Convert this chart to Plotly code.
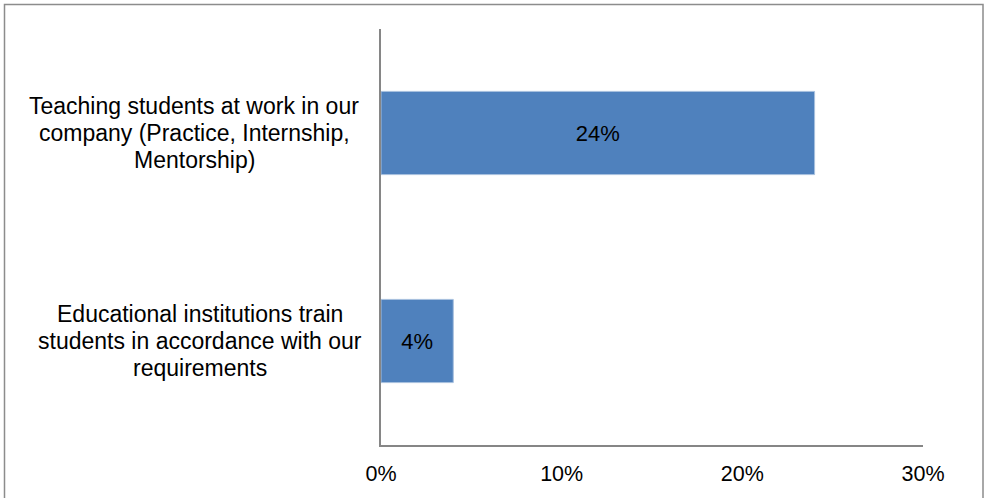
import plotly.graph_objects as go

# Survey answers (share of respondents)
categories = [
    "Teaching students at work in our company (Practice, Internship, Mentorship)",
    "Educational institutions train students in accordance with our requirements",
]
category_lines = [
    ["Teaching students at work in our", "company (Practice, Internship,", "Mentorship)"],
    ["Educational institutions train", "students in accordance with our", "requirements"],
]
values = [0.24, 0.04]
tick_values = [0, 0.1, 0.2, 0.3]
tick_labels = ["0%", "10%", "20%", "30%"]

FONT = "Liberation Sans, Arial, sans-serif"
W, H = 984, 498
ML, MR, MT, MB = 381, 61, 29, 53
LINE_STEP = 27          # px between wrapped label lines
LABEL_CENTER = [-187, -181]  # horizontal centre of each label block, px from the axis

fig = go.Figure(
    go.Bar(
        x=values,
        y=categories,
        orientation="h",
        marker=dict(color="#4F81BD", line=dict(color="#A7C0DE", width=1)),
        text=[f"{v:.0%}" for v in values],
        textposition="inside",
        insidetextanchor="middle",
        textfont=dict(family=FONT, size=22, color="#000000"),
        hoverinfo="skip",
    )
)

# Category labels: centred multi-line blocks to the left of the axis
for cat, lines, cx in zip(categories, category_lines, LABEL_CENTER):
    n = len(lines)
    for i, line in enumerate(lines):
        fig.add_annotation(
            x=0, xref="paper", y=cat, yref="y",
            text=line, showarrow=False,
            xanchor="center", yanchor="middle", align="center",
            xshift=cx, yshift=((n - 1) / 2 - i) * LINE_STEP,
            font=dict(family=FONT, size=23, color="#000000"),
        )

# Outer frame around the chart
fig.add_shape(
    type="rect", xref="paper", yref="paper",
    x0=(4.5 - ML) / (W - ML - MR), x1=(983 - ML) / (W - ML - MR),
    y0=(H - MB - 510) / (H - MT - MB), y1=(H - MB - 4.5) / (H - MT - MB),
    line=dict(color="#8C8C8C", width=1.5), fillcolor="rgba(0,0,0,0)",
    layer="below",
)

fig.update_layout(
    width=W, height=H,
    margin=dict(l=ML, r=MR, t=MT, b=MB),
    paper_bgcolor="#FFFFFF", plot_bgcolor="#FFFFFF",
    bargap=0.6,
    showlegend=False,
    font=dict(family=FONT, size=21.5, color="#000000"),
    xaxis=dict(
        range=[0, 0.3],
        tickvals=tick_values, ticktext=tick_labels,
        showgrid=False, zeroline=False,
        showline=True, linecolor="#868686", linewidth=2,
        ticks="", ticklabelstandoff=8,
        tickfont=dict(family=FONT, size=21.5, color="#000000"),
        fixedrange=True,
    ),
    yaxis=dict(
        categoryorder="array", categoryarray=categories[::-1],
        showticklabels=False, showgrid=False, zeroline=False,
        showline=True, linecolor="#868686", linewidth=2,
        ticks="", fixedrange=True,
    ),
)

fig.write_html("out.html", config={"displayModeBar": False})
